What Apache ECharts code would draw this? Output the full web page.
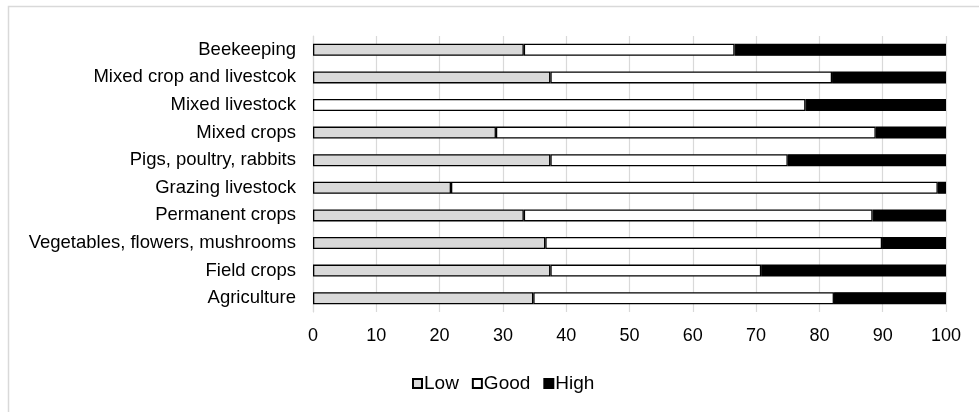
<!DOCTYPE html>
<html>
<head>
<meta charset="utf-8">
<script src="https://cdn.jsdelivr.net/npm/echarts@6/dist/echarts.min.js"></script>
<style>
html,body{margin:0;padding:0;background:#fff;}
#chart{width:979px;height:412px;}
</style>
</head>
<body>
<div id="chart"></div>
<script>
// categories top -> bottom
var categories = ['Beekeeping', 'Mixed crop and livestcok', 'Mixed livestock', 'Mixed crops',
  'Pigs, poultry, rabbits', 'Grazing livestock', 'Permanent crops',
  'Vegetables, flowers, mushrooms', 'Field crops', 'Agriculture'];
var lowValues  = [33.3, 37.5, 0,    28.9, 37.5, 21.8, 33.3, 36.7, 37.5, 34.8];
var goodValues = [33.3, 44.5, 77.8, 60.0, 37.5, 76.9, 55.1, 53.2, 33.3, 47.5];
var highValues = [33.4, 18.0, 22.2, 11.1, 25.0, 1.3,  11.6, 10.1, 29.2, 17.7];
var seriesNames = ['Low', 'Good', 'High'];

var font = '"Liberation Sans", Arial, sans-serif';
var fills = ['#d9d9d9', '#ffffff', '#000000'];
var values = [lowValues, goodValues, highValues];

var series = [];
for (var i = 0; i < 3; i++) {
  series.push({
    name: seriesNames[i],
    type: 'bar',
    stack: 'total',
    barWidth: 12,
    itemStyle: {color: fills[i], borderColor: '#000', borderWidth: 1.3},
    emphasis: {disabled: true},
    // zero-width segments should not leave a border stroke
    data: values[i].map(function (v) {
      return v === 0 ? {value: v, itemStyle: {borderWidth: 0}} : v;
    })
  });
}

var myChart = echarts.init(document.getElementById('chart'));
var option = {
  animation: false,
  textStyle: {fontFamily: font},
  graphic: [{
    type: 'rect',
    shape: {x: 8.5, y: 6.5, width: 1200, height: 800},
    style: {fill: 'none', stroke: '#d9d9d9', lineWidth: 1.5},
    silent: true
  }],
  grid: {left: 313, right: 33, top: 36, bottom: 100, containLabel: false},
  legend: {
    data: seriesNames,
    left: 407,
    top: 369,
    icon: 'rect',
    itemWidth: 9,
    itemHeight: 9,
    itemGap: 13,
    textStyle: {fontSize: 19, color: '#000', fontFamily: font, padding: [0, 0, 0, -3]}
  },
  xAxis: {
    type: 'value',
    min: 0,
    max: 100,
    interval: 10,
    axisLine: {show: false},
    axisTick: {show: false},
    splitLine: {lineStyle: {color: '#d9d9d9', width: 1.2}},
    axisLabel: {fontSize: 18, color: '#000', margin: 15, fontFamily: font}
  },
  yAxis: {
    type: 'category',
    inverse: true,
    data: categories,
    axisLine: {lineStyle: {color: '#d9d9d9', width: 1.2}},
    axisTick: {show: false},
    axisLabel: {fontSize: 18.5, color: '#000', margin: 17, fontFamily: font}
  },
  series: series
};
myChart.setOption(option);
</script>
</body>
</html>
